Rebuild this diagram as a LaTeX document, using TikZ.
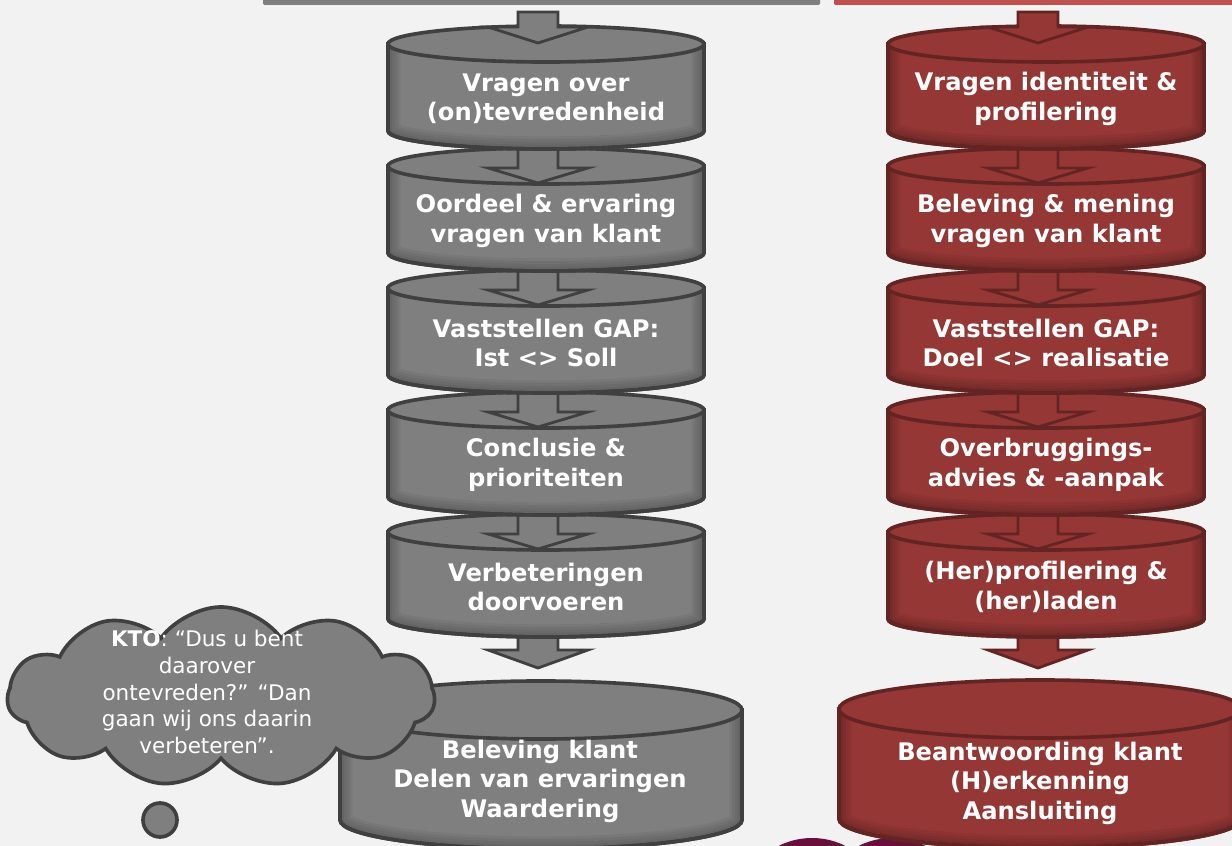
\documentclass[tikz,border=0pt]{standalone}
\usepackage{fontspec}
\setmainfont{DejaVu Sans}
\usetikzlibrary{shapes.symbols}

\definecolor{pagebg}{HTML}{F2F2F2}
\definecolor{drumgray}{HTML}{7F7F7F}
\definecolor{edgegray}{HTML}{404040}
\definecolor{drumred}{HTML}{953735}
\definecolor{edgered}{HTML}{632523}
\definecolor{barred}{HTML}{C0504D}
\definecolor{plum}{HTML}{6A0F3C}

\tikzset{
  graydrum/.style={fill=drumgray, draw=edgegray, line width=2.6pt},
  reddrum/.style={fill=drumred, draw=edgered, line width=2.6pt},
  grayarrow/.style={fill=drumgray, draw=edgegray, line width=2pt, line join=miter},
  redarrow/.style={fill=drumred, draw=edgered, line width=2pt, line join=miter},
  drumtext/.style={text=white, font=\fontsize{17.2}{21}\selectfont\bfseries, align=center, inner sep=0pt},
  cloudtext/.style={text=white, font=\fontsize{15.3}{18.9}\selectfont, align=center, inner sep=0pt}
}

% drum: centre x, top y, x radius, y radius, body height, style
\newcommand{\drum}[6]{%
  \path[#6] (#1-#3,#2) -- (#1-#3,#2+#5) arc[start angle=180, end angle=0, x radius=#3, y radius=#4] -- (#1+#3,#2) -- cycle;
  \begin{scope}
    \clip (#1-#3,#2) -- (#1-#3,#2+#5) arc[start angle=180, end angle=0, x radius=#3, y radius=#4] -- (#1+#3,#2) -- cycle;
    \foreach \w in {18pt,14pt,10pt,6pt}
      \draw[black, opacity=.05, line width=\w] (#1-#3,#2-30) -- (#1-#3,#2+#5) arc[start angle=180, end angle=0, x radius=#3, y radius=#4] -- (#1+#3,#2-30);
  \end{scope}
  \path[#6, fill=none] (#1-#3,#2) -- (#1-#3,#2+#5) arc[start angle=180, end angle=0, x radius=#3, y radius=#4] -- (#1+#3,#2);
  \path[#6] (#1,#2) ellipse[x radius=#3, y radius=#4];
}
% block arrow: x, shaft top, head base, tip, style
\newcommand{\blockarrow}[5]{%
  \draw[#5] (#1-20,#2) -- (#1+20,#2) -- (#1+20,#3) -- (#1+50,#3) -- (#1,#4) -- (#1-50,#3) -- (#1-20,#3) -- cycle;
}

\begin{document}
\begin{tikzpicture}[x=0.025cm, y=-0.025cm]
  \useasboundingbox (0,0) rectangle (1232,846);
  \fill[pagebg] (0,0) rectangle (1232,846);
  \clip (0,0) rectangle (1232,846);

  % header bars
  \fill[drumgray, rounded corners=1pt] (263,-5) rectangle (820,5);
  \fill[barred, rounded corners=1pt] (834,-5) rectangle (1240,5);

  % circles at the foot
  \fill[plum] (812,912) circle[radius=74];
  \fill[plum] (892,912) circle[radius=74];

  % base drums
  \drum{541}{710}{201}{29}{110}{graydrum}
  \drum{1040}{709}{201}{29}{110}{reddrum}
  \blockarrow{538}{620}{650}{668}{grayarrow}
  \blockarrow{1038}{620}{650}{668}{redarrow}
  \node[drumtext] (gbase) at (540,781) {Beleving klant\\Delen van ervaringen\\Waardering};
  \node[drumtext] (rbase) at (1040,783) {Beantwoording klant\\(H)erkenning\\Aansluiting};

  % stacked drums, drawn from the bottom up
  \foreach \i/\gtext/\rtext in {
      5/{Verbeteringen\\doorvoeren}/{(Her)profilering \&\\(her)laden},
      4/{Conclusie \&\\prioriteiten}/{Overbruggings-\\advies \& -aanpak},
      3/{Vaststellen GAP:\\Ist <> Soll}/{Vaststellen GAP:\\Doel <> realisatie},
      2/{Oordeel \& ervaring\\vragen van klant}/{Beleving \& mening\\vragen van klant},
      1/{Vragen over\\(on)tevredenheid}/{Vragen identiteit \&\\profilering}} {
    \pgfmathsetmacro{\ytop}{44+122*(\i-1)}
    \pgfmathsetmacro{\yshaft}{\i==1 ? 12 : \ytop-30}
    \pgfmathsetmacro{\yhead}{\i==1 ? 27 : \ytop+2}
    \pgfmathsetmacro{\ytip}{\i==1 ? 43 : \ytop+17}
    \drum{546}{\ytop}{158}{18}{87}{graydrum}
    \drum{1046}{\ytop}{158}{18}{87}{reddrum}
    \blockarrow{538}{\yshaft}{\yhead}{\ytip}{grayarrow}
    \blockarrow{1038}{\yshaft}{\yhead}{\ytip}{redarrow}
    \node[drumtext] (g\i) at (546,\ytop+55) {\gtext};
    \node[drumtext] (r\i) at (1046,\ytop+55) {\rtext};
  };

  % thought cloud
  \node[cloud, cloud puffs=11, cloud puff arc=110, cloud ignores aspect,
        minimum width=10.675cm, minimum height=4.5cm,
        fill=drumgray, draw=edgegray, line width=2.6pt] (kto) at (221,697) {};
  \node[cloudtext] (ktotext) at (207,692)
    {\textbf{KTO}: “Dus u bent\\daarover\\ontevreden?” “Dan\\gaan wij ons daarin\\verbeteren”.};
  \node[circle, minimum size=0.85cm, inner sep=0pt,
        fill=drumgray, draw=edgegray, line width=2.6pt] (dot) at (160,820) {};
\end{tikzpicture}
\end{document}
